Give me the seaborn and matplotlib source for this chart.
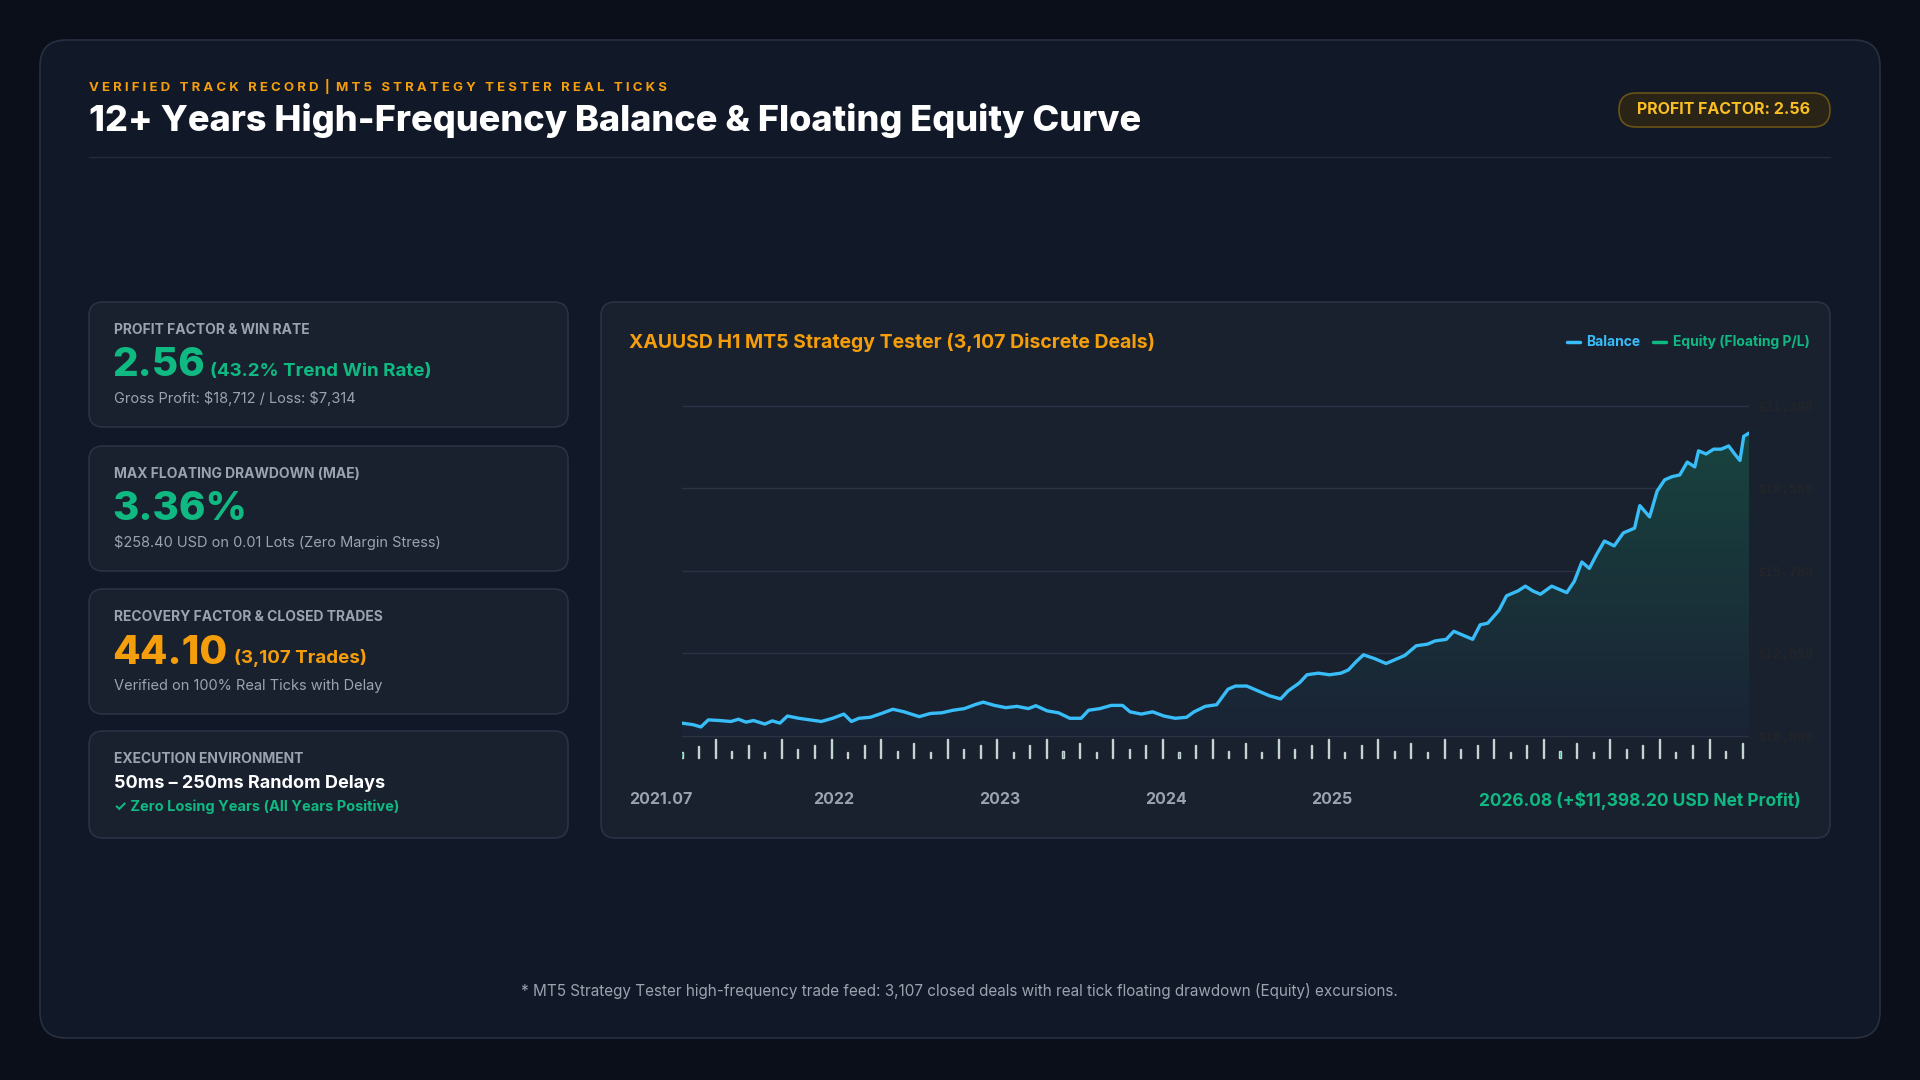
import numpy as np
import pandas as pd

import matplotlib.pyplot as plt
import seaborn as sns
from matplotlib.patches import FancyBboxPatch
from matplotlib.colors import LinearSegmentedColormap


class Plot:

    def __init__(self, data = None, bars = None, save_path = "out.png"):
        """

        :param data:
        :param bars:
        :param save_path:
        """
        self.data = data
        self.bars = bars
        self.save_path = save_path

    @staticmethod
    def card(fig, x, y, w, h, face = '#19212f', edge = '#2a3344', r = 14):
        """

        :return:
        """
        W, H = 1920, 1080
        fig.add_artist(FancyBboxPatch((x / W, 1 - (y + h) / H), w / W, h / H,
                                      boxstyle = f"round,pad=0,rounding_size={r / W}",
                                      transform = fig.transFigure, facecolor = face,
                                      edgecolor = edge, linewidth = 1.2, mutation_aspect = W / H,
                                      zorder = -5))

    @staticmethod
    def txt(fig, x, y, s, **kw):
        fig.text(x / 1920, 1 - y / 1080, s, **kw)

    def plot_equity(self):
        """

        :return:
        """
        fig = plt.figure(figsize = (19.2, 10.8), dpi = 100)
        fig.patch.set_facecolor('#0b0f19')
        Plot.card(fig, 40, 40, 1840, 998, face = '#111827', edge = '#273042', r = 26)
        t = Plot.txt
        t(fig, 89, 87, "V E R I F I E D   T R A C K   R E C O R D  |  M T 5   S T R A T E G Y   T E S T E R   R E A L   T I C K S",
          color = '#f59e0b', fontsize = 9.5, fontweight = 'bold', va = 'center')
        t(fig, 89, 120, "12+ Years High-Frequency Balance & Floating Equity Curve", color = 'white',
          fontsize = 26, fontweight = 'heavy', va = 'center')
        Plot.card(fig, 1619, 93, 211, 34, face = '#2a2416', edge = '#6b5316', r = 17)
        t(fig, 1724, 110, "PROFIT FACTOR: 2.56", color = '#fbbf24', fontsize = 11.5,
          fontweight = 'bold', ha = 'center', va = 'center')
        fig.add_artist(plt.Line2D([89 / 1920, 1830 / 1920], [1 - 157 / 1080] * 2, color = '#222b3b', lw = 1))

        # metric cards
        cards = [
            (302, "PROFIT FACTOR & WIN RATE", "2.56", "(43.2% Trend Win Rate)", '#10b981',
             "Gross Profit: \\$18,712 / Loss: \\$7,314"),
            (446, "MAX FLOATING DRAWDOWN (MAE)", "3.36%", "", '#10b981',
             "\\$258.40 USD on 0.01 Lots (Zero Margin Stress)"),
            (589, "RECOVERY FACTOR & CLOSED TRADES", "44.10", "(3,107 Trades)", '#f59e0b',
             "Verified on 100% Real Ticks with Delay"),
        ]
        for y0, label, big, extra, col, small in cards:
            Plot.card(fig, 89, y0, 479, 125)
            t(fig, 114, y0 + 28, label, color = '#9ca3af', fontsize = 10, fontweight = 'bold', va = 'center')
            t(fig, 112, y0 + 64, big, color = col, fontsize = 29, fontweight = 'heavy', va = 'center')
            if extra:
                xo = 210 if big == "2.56" else 234
                t(fig, xo, y0 + 69, extra, color = col, fontsize = 13.5, fontweight = 'bold', va = 'center')
            t(fig, 114, y0 + 97, small, color = '#9ca3af', fontsize = 10.5, va = 'center')
        Plot.card(fig, 89, 731, 479, 107)
        t(fig, 114, 759, "EXECUTION ENVIRONMENT", color = '#9ca3af', fontsize = 10, fontweight = 'bold', va = 'center')
        t(fig, 114, 783, "50ms – 250ms Random Delays", color = 'white', fontsize = 13, fontweight = 'bold', va = 'center')
        t(fig, 114, 807, "✓ Zero Losing Years (All Years Positive)", color = '#10b981', fontsize = 10.5,
          fontweight = 'bold', va = 'center')

        # chart panel
        Plot.card(fig, 601, 302, 1229, 536)
        t(fig, 629, 342, "XAUUSD H1 MT5 Strategy Tester (3,107 Discrete Deals)", color = '#f59e0b',
          fontsize = 14, fontweight = 'bold', va = 'center')
        fig.add_artist(plt.Line2D([1567 / 1920, 1580 / 1920], [1 - 342 / 1080] * 2, color = '#38bdf8', lw = 2.5))
        t(fig, 1586, 342, "Balance", color = '#38bdf8', fontsize = 10, fontweight = 'bold', va = 'center')
        fig.add_artist(plt.Line2D([1653 / 1920, 1666 / 1920], [1 - 342 / 1080] * 2, color = '#10b981', lw = 2.5))
        t(fig, 1673, 342, "Equity (Floating P/L)", color = '#10b981', fontsize = 10, fontweight = 'bold', va = 'center')

        y_lo, y_hi = 9150, 21700
        top_px = 406 - (y_hi - 21398) / (21398 - 10000) * 330
        bot_px = 736 + (10000 - y_lo) / (21398 - 10000) * 330
        ax = fig.add_axes([682 / 1920, 1 - bot_px / 1080, 1067 / 1920, (bot_px - top_px) / 1080])
        ax.set_zorder(5)
        ax.set_facecolor('none')
        for v in [10000, 12850, 15700, 18550, 21398]:
            ax.axhline(v, color = '#2a3344', lw = 1, zorder = 1)
        sns.lineplot(x = 't', y = 'Balance', data = self.data, ax = ax, color = '#38bdf8', lw = 2.4, zorder = 4)
        poly = ax.fill_between(self.data['t'], 10000, self.data['Balance'], color = 'none', lw = 0)
        grad = np.linspace(0, 1, 256).reshape(-1, 1)
        im = ax.imshow(grad, extent = [self.data['t'].min(), self.data['t'].max(), 10000, 21000],
                       aspect = 'auto', origin = 'lower', zorder = 2,
                       cmap = LinearSegmentedColormap.from_list('g', ['#1a2335', '#18453f']))
        im.set_clip_path(poly.get_paths()[0], transform = ax.transData)
        ax.bar(self.bars['t'], self.bars['Height'], bottom = 9245, width = 1.4, color = '#10b981',
               alpha = 0.75, zorder = 3)
        ax.set_xlim(self.data['t'].min(), self.data['t'].max())
        ax.set_ylim(y_lo, y_hi)
        ticks = [10000, 12850, 15700, 18550, 21398]
        ax.set_yticks(ticks)
        ax.set_yticklabels([f"${v:,}" for v in ticks], family = 'DejaVu Sans Mono', fontsize = 9.5)
        for lab in ax.get_yticklabels():
            lab.set_color('#9ca3af')
        ax.get_yticklabels()[-1].set_color('#10b981')
        ax.get_yticklabels()[-1].set_fontweight('bold')
        ax.yaxis.tick_right()
        ax.tick_params(axis = 'y', length = 0, pad = 6)
        ax.set_xticks([])
        ax.set_xlabel('')
        ax.set_ylabel('')
        ax.grid(False)
        for s in ax.spines.values():
            s.set_visible(False)

        for x, s in [(629, "2021.07"), (834, "2022"), (1000, "2023"), (1166, "2024"), (1332, "2025")]:
            t(fig, x, 800, s, color = '#9ca3af', fontsize = 11.5, fontweight = 'bold', va = 'center',
              ha = 'left' if s == "2021.07" else 'center')
        t(fig, 1801, 800, "2026.08 (+\\$11,398.20 USD Net Profit)", color = '#10b981', fontsize = 12.5,
          fontweight = 'bold', va = 'center', ha = 'right')
        t(fig, 959, 991, "* MT5 Strategy Tester high-frequency trade feed: 3,107 closed deals with real tick "
          "floating drawdown (Equity) excursions.", color = '#9ca3af', fontsize = 11, ha = 'center', va = 'center')
        fig.savefig(self.save_path, dpi = 100, facecolor = fig.get_facecolor())


sns.set_theme(style = 'dark')
plt.rcParams['font.family'] = ['Inter', 'DejaVu Sans']

t_vals = [30, 45, 55, 65, 80, 95, 105, 115, 125, 140, 150, 160, 170, 185, 200, 215, 230, 245, 255, 265,
          280, 295, 310, 325, 345, 360, 375, 390, 405, 420, 430, 445, 460, 475, 490, 500, 515, 530, 545, 560,
          570, 585, 600, 615, 625, 640, 655, 670, 685, 700, 710, 725, 740, 755, 765, 780, 795, 810, 825, 835,
          850, 860, 875, 890, 905, 915, 925, 935, 950, 965, 980, 990, 1005, 1020, 1030, 1045, 1055, 1065, 1080, 1090,
          1100, 1115, 1125, 1140, 1150, 1160, 1170, 1185, 1195, 1205, 1215, 1225, 1235, 1245, 1255, 1268, 1280, 1295, 1302, 1315,
          1325, 1335, 1345, 1355, 1365, 1375, 1380, 1390, 1400, 1410, 1420, 1428, 1435, 1440, 1447]
balance = [10445, 10390, 10312, 10557, 10534, 10501, 10579, 10479, 10534, 10412, 10523, 10445, 10690, 10612, 10557, 10501, 10612, 10757, 10501, 10612,
           10646, 10779, 10924, 10835, 10668, 10779, 10801, 10890, 10946, 11091, 11169, 11057, 10979, 11024, 10946, 11046, 10868, 10801, 10612, 10612,
           10890, 10946, 11057, 11057, 10835, 10757, 10835, 10690, 10612, 10646, 10835, 11024, 11080, 11614, 11725, 11725, 11558, 11391, 11280, 11558,
           11836, 12115, 12170, 12115, 12170, 12282, 12560, 12805, 12671, 12504, 12671, 12783, 13116, 13172, 13283, 13339, 13617, 13506, 13339, 13840,
           13896, 14341, 14842, 15009, 15175, 15009, 14897, 15175, 15064, 14953, 15342, 16010, 15788, 16288, 16734, 16567, 17012, 17179, 17958, 17568,
           18459, 18848, 18960, 19015, 19461, 19294, 19851, 19740, 19907, 19907, 20018, 19740, 19517, 20351, 20462]
data = pd.DataFrame({'t': t_vals, 'Balance': balance})

bar_t = list(range(30, 1450, 22))
bar_h = [200, 400, 650, 250, 450, 200, 650, 300, 450, 650, 200, 450, 650, 250, 500, 200, 650, 300, 450, 650,
         200, 450, 650, 250, 500, 200, 650, 300, 450, 650, 200, 450, 650, 250, 500, 200, 650, 300, 450, 650,
         200, 450, 650, 250, 500, 200, 650, 300, 450, 650, 200, 450, 650, 250, 500, 200, 650, 300, 450, 650,
         200, 450, 650, 250, 500][:len(bar_t)]
bars = pd.DataFrame({'t': bar_t, 'Height': bar_h})

Plot(data = data, bars = bars).plot_equity()
